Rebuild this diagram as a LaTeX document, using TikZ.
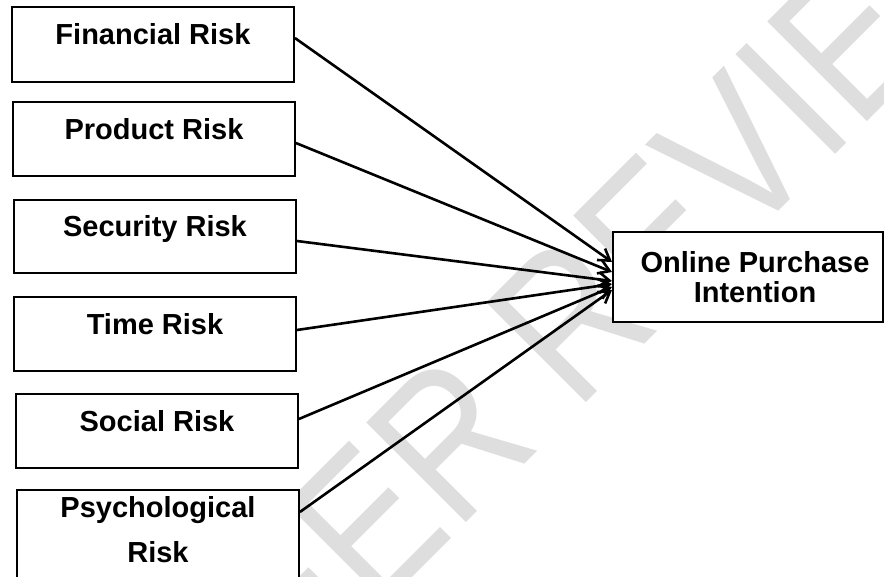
\documentclass[tikz,border=0pt]{standalone}
\usepackage{fontspec}
\setmainfont{Liberation Sans}
\usetikzlibrary{arrows.meta,calc}
\begin{document}
\begin{tikzpicture}[x=1pt,y=-1pt,
  box/.style={draw=black, line width=1.8pt, fill=white, inner sep=0pt, minimum width=282pt,
              font=\fontsize{29}{45}\selectfont\bfseries},
  lbl/.style={font=\fontsize{29}{45}\selectfont\bfseries, align=center, inner sep=0pt},
  conn/.style={line width=2.6pt, -{Straight Barb[length=11pt,width=14pt]}},
  wm/.style={text=black!13, font=\fontsize{205}{205}\selectfont, rotate=45, xscale=0.83, inner sep=0pt}]
\useasboundingbox (0,0) rectangle (884,576);
\clip (0,0) rectangle (884,576);
% watermark
\node[wm] (wmark) at (584,306) {PEER REVIEW};
% source boxes
\node[box, text height=37.5pt, text depth=37.5pt] (fin) at (153,44.5) {Financial Risk};
\node[box, text height=37pt, text depth=37pt] (prod) at (154,139) {Product Risk};
\node[box, text height=36.5pt, text depth=36.5pt] (sec) at (155,236.5) {Security Risk};
\node[box, text height=37pt, text depth=37pt] (time) at (155,334) {Time Risk};
\node[box, text height=37pt, text depth=37pt] (soc) at (157,431) {Social Risk};
\node[box, minimum height=120pt] (psy) at (158,550) {};
\node[lbl] (psyl) at (158,530) {Psychological\\Risk};
% target
\node[box, line width=2pt, minimum width=270pt, minimum height=90pt] (tgt) at (748,277) {};
\node[lbl, font=\fontsize{29}{30}\selectfont\bfseries] (tgtl) at (755,277.4) {Online Purchase\\Intention};
% connectors
\draw[conn] ([yshift=6.5pt]fin.east) -- ([yshift=15pt]tgt.west);
\draw[conn] ([yshift=-4pt]prod.east) -- ([yshift=5pt]tgt.west);
\draw[conn] ([yshift=-4.5pt]sec.east) -- ([yshift=-4pt]tgt.west);
\draw[conn] ([yshift=4pt]time.east) -- ([yshift=-7pt]tgt.west);
\draw[conn] ([yshift=12pt]soc.east) -- ([yshift=-10pt]tgt.west);
\draw[conn] ([yshift=38pt]psy.east) -- ([yshift=-13pt]tgt.west);
\end{tikzpicture}
\end{document}
